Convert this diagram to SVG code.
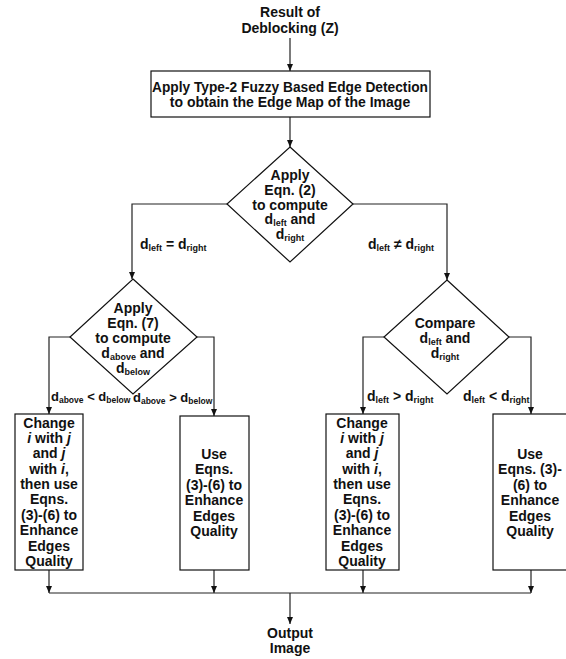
<svg xmlns="http://www.w3.org/2000/svg" width="566" height="659" viewBox="0 0 566 659">
<defs>
<marker id="ah" markerWidth="8" markerHeight="8" refX="7" refY="4" orient="auto" markerUnits="userSpaceOnUse">
<path d="M0,1 L7,4 L0,7 Z" fill="#111"/>
</marker>
<style>
text{font-family:"Liberation Sans",Arial,sans-serif;font-weight:bold;font-size:14px;fill:#111}
.c{text-anchor:middle}
.s{font-size:9px}
.sm{font-size:13px}
.sm .s{font-size:8.5px}
.shape{fill:#fff;stroke:#111;stroke-width:1.2}
.ln{fill:none;stroke:#222;stroke-width:1.2}
.ar{marker-end:url(#ah)}
</style>
</defs>
<rect width="566" height="659" fill="#fff"/>
<g id="connectors">
<path class="ln ar" d="M290,38 V71"/>
<path class="ln ar" d="M290,117 V147"/>
<path class="ln ar" d="M227,204 H132 V279"/>
<path class="ln ar" d="M353,204 H447 V280"/>
<path class="ln ar" d="M70,337 H49 V414"/>
<path class="ln ar" d="M197,337 H214 V416"/>
<path class="ln ar" d="M384,337 H363 V414"/>
<path class="ln ar" d="M509,337 H531 V414"/>
<path class="ln ar" d="M49,570 V593"/>
<path class="ln ar" d="M214,570 V593"/>
<path class="ln ar" d="M363,570 V593"/>
<path class="ln ar" d="M531,570 V593"/>
<path class="ln" d="M49,593 H531"/>
<path class="ln ar" d="M290,593 V624"/>
</g>
<g id="start">
<text class="c" x="290" y="17">Result of</text>
<text class="c" x="290" y="32.5">Deblocking (Z)</text>
</g>
<g id="edge-detection">
<rect class="shape" x="151" y="71" width="279" height="46"/>
<text class="c" x="290" y="92" textLength="276" lengthAdjust="spacingAndGlyphs">Apply Type-2 Fuzzy Based Edge Detection</text>
<text class="c" x="290" y="106.5">to obtain the Edge Map of the Image</text>
</g>
<g id="decision1">
<polygon class="shape" points="290,147 353,204 290,262 227,204"/>
<text class="c" x="290" y="180">Apply</text>
<text class="c" x="290" y="194.5">Eqn. (2)</text>
<text class="c" x="290" y="209.5">to compute</text>
<text class="c" x="290" y="224">d<tspan class="s" dy="2">left</tspan><tspan dy="-2"> and</tspan></text>
<text class="c" x="290" y="239">d<tspan class="s" dy="2">right</tspan></text>
</g>
<g id="label-eq">
<text x="140" y="249">d<tspan class="s" dy="2">left</tspan><tspan dy="-2"> = d</tspan><tspan class="s" dy="2">right</tspan></text>
</g>
<g id="label-neq">
<text x="368" y="249">d<tspan class="s" dy="2">left</tspan><tspan dy="-2"> ≠ d</tspan><tspan class="s" dy="2">right</tspan></text>
</g>
<g id="decision2">
<polygon class="shape" points="133,279 197,337 133,394 70,337"/>
<text class="c" x="133" y="312.5">Apply</text>
<text class="c" x="133" y="327.5">Eqn. (7)</text>
<text class="c" x="133" y="342.5">to compute</text>
<text class="c" x="133" y="357.5">d<tspan class="s" dy="2">above</tspan><tspan dy="-2"> and</tspan></text>
<text class="c" x="133" y="372.5">d<tspan class="s" dy="2">below</tspan></text>
</g>
<g id="label-lt">
<text class="sm" x="51" y="401">d<tspan class="s" dy="2">above</tspan><tspan dy="-2"> &lt; d</tspan><tspan class="s" dy="2">below</tspan></text>
</g>
<g id="label-gt">
<text class="sm" x="133" y="402">d<tspan class="s" dy="2">above</tspan><tspan dy="-2"> &gt; d</tspan><tspan class="s" dy="2">below</tspan></text>
</g>
<g id="decision3">
<polygon class="shape" points="447,280 509,337 447,394 384,337"/>
<text class="c" x="445" y="327.5">Compare</text>
<text class="c" x="445" y="342.5">d<tspan class="s" dy="2">left</tspan><tspan dy="-2"> and</tspan></text>
<text class="c" x="445" y="358">d<tspan class="s" dy="2">right</tspan></text>
</g>
<g id="label-gt2">
<text x="367" y="401">d<tspan class="s" dy="2">left</tspan><tspan dy="-2"> &gt; d</tspan><tspan class="s" dy="2">right</tspan></text>
</g>
<g id="label-lt2">
<text x="463" y="401">d<tspan class="s" dy="2">left</tspan><tspan dy="-2"> &lt; d</tspan><tspan class="s" dy="2">right</tspan></text>
</g>
<g id="boxA">
<rect class="shape" x="15" y="414" width="68" height="156"/>
<text class="c" x="49" y="427.5">Change</text>
<text class="c" x="49" y="442.5"><tspan font-style="italic">i</tspan> with <tspan font-style="italic">j</tspan></text>
<text class="c" x="49" y="458">and <tspan font-style="italic">j</tspan></text>
<text class="c" x="49" y="473.5">with <tspan font-style="italic">i</tspan>,</text>
<text class="c" x="49" y="489">then use</text>
<text class="c" x="49" y="504">Eqns.</text>
<text class="c" x="49" y="519.5">(3)-(6) to</text>
<text class="c" x="49" y="535">Enhance</text>
<text class="c" x="49" y="550.5">Edges</text>
<text class="c" x="49" y="565.5">Quality</text>
</g>
<g id="boxB">
<rect class="shape" x="180" y="416" width="69" height="154"/>
<text class="c" x="214" y="459">Use</text>
<text class="c" x="214" y="474">Eqns.</text>
<text class="c" x="214" y="489.5">(3)-(6) to</text>
<text class="c" x="214" y="505">Enhance</text>
<text class="c" x="214" y="520.5">Edges</text>
<text class="c" x="214" y="536">Quality</text>
</g>
<g id="boxC">
<rect class="shape" x="326" y="414" width="73" height="156"/>
<text class="c" x="362" y="427.5">Change</text>
<text class="c" x="362" y="442.5"><tspan font-style="italic">i</tspan> with <tspan font-style="italic">j</tspan></text>
<text class="c" x="362" y="458">and <tspan font-style="italic">j</tspan></text>
<text class="c" x="362" y="473.5">with <tspan font-style="italic">i</tspan>,</text>
<text class="c" x="362" y="489">then use</text>
<text class="c" x="362" y="504">Eqns.</text>
<text class="c" x="362" y="519.5">(3)-(6) to</text>
<text class="c" x="362" y="535">Enhance</text>
<text class="c" x="362" y="550.5">Edges</text>
<text class="c" x="362" y="565.5">Quality</text>
</g>
<g id="boxD">
<rect class="shape" x="493" y="414" width="76" height="156"/>
<text class="c" x="530" y="459">Use</text>
<text class="c" x="530" y="474">Eqns. (3)-</text>
<text class="c" x="530" y="489.5">(6) to</text>
<text class="c" x="530" y="505">Enhance</text>
<text class="c" x="530" y="520.5">Edges</text>
<text class="c" x="530" y="536">Quality</text>
</g>
<g id="output">
<text class="c" x="290" y="638">Output</text>
<text class="c" x="290" y="653">Image</text>
</g>
</svg>
